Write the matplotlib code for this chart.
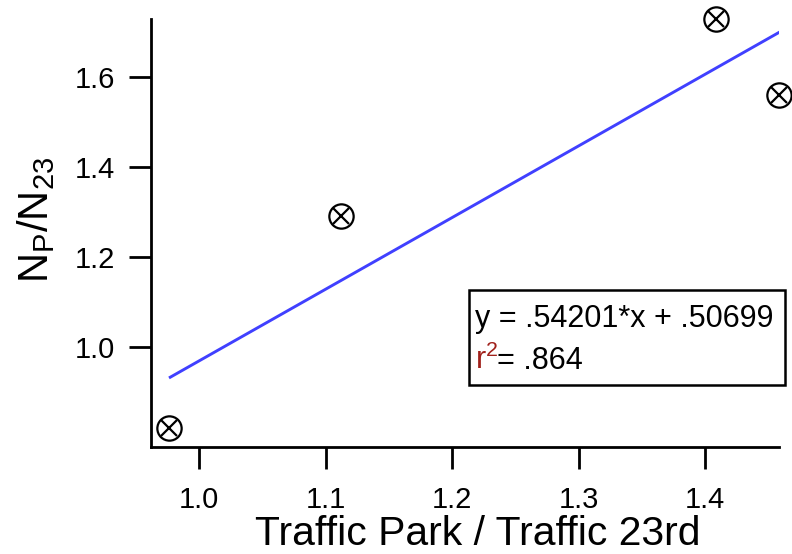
import numpy as np
import matplotlib.pyplot as plt

plt.rcParams['font.family'] = ['Liberation Sans', 'DejaVu Sans']
plt.rcParams['mathtext.fontset'] = 'custom'
plt.rcParams['mathtext.rm'] = 'Liberation Sans'
plt.rcParams['mathtext.it'] = 'Liberation Sans'

# points mesurés
ratio_trafic = [0.976, 1.112, 1.409, 1.4585]
ratio_n = [0.82, 1.292, 1.7296, 1.561]

# droite d'ajustement (extrémités lues)
fit_x = [0.976, 1.459]
fit_y = [0.932, 1.7006]

x_ticks = [1.0, 1.1, 1.2, 1.3, 1.4]
y_ticks = [1.0, 1.2, 1.4, 1.6]

fig = plt.figure(figsize=(7.92, 5.54), dpi=100)
ax = fig.add_axes([0.1907, 0.1931, 0.7929, 0.7726])

ax.plot(fit_x, fit_y, color='#4040ff', linewidth=2.1, solid_capstyle='butt')
ax.plot(ratio_trafic, ratio_n, linestyle='none', marker='o', markersize=17.5,
        markerfacecolor='none', markeredgecolor='black', markeredgewidth=1.6,
        clip_on=False)
ax.plot(ratio_trafic, ratio_n, linestyle='none', marker='x', markersize=12.2,
        markeredgecolor='black', markeredgewidth=1.6, clip_on=False)

ax.set_xlim(0.9618, 1.4585)
ax.set_ylim(0.7785, 1.7296)
ax.set_xticks(x_ticks)
ax.set_xticklabels(['%.1f' % v for v in x_ticks])
ax.set_yticks(y_ticks)
ax.set_yticklabels(['%.1f' % v for v in y_ticks])

for s in ['top', 'right']:
    ax.spines[s].set_visible(False)
for s in ['left', 'bottom']:
    ax.spines[s].set_linewidth(2.0)

ax.tick_params(direction='out', length=16, width=2.0, labelsize=21)
ax.tick_params(axis='x', pad=12)
ax.tick_params(axis='y', pad=10)

ax.set_xlabel('Traffic Park / Traffic 23rd', fontsize=29.4)
ax.xaxis.set_label_coords(0.521, -0.158)
ax.set_ylabel(r'$\mathrm{N_P/N_{23}}$', fontsize=30)
ax.yaxis.set_label_coords(-0.150, 0.53)

# boîte de l'équation
box = plt.Rectangle((469/792, 1 - 385/554), (785-469)/792, (385-290)/554,
                    transform=fig.transFigure, fill=False, edgecolor='black',
                    linewidth=1.8)
fig.patches.append(box)
fig.text(475/792, 1 - 319/554, 'y = .54201*x + .50699', fontsize=22,
         va='center', ha='left')
fig.text(475/792, 1 - 360/554, r'$\mathrm{r^2}$', fontsize=22, color='#a0201a',
         va='center', ha='left')
fig.text(497/792, 1 - 361/554, '= .864', fontsize=22, va='center', ha='left')

fig.savefig('out.png', dpi=100)
